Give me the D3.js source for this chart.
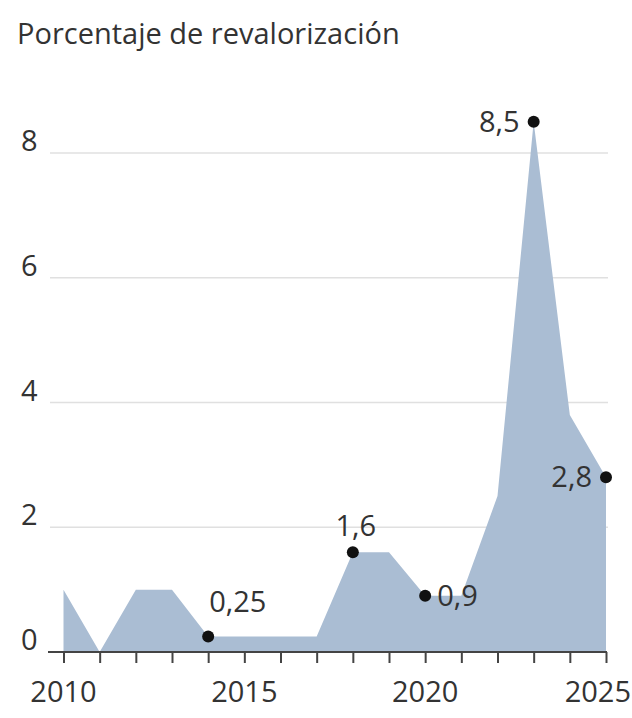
<!DOCTYPE html>
<html>
<head>
<meta charset="utf-8">
<script src="https://cdn.jsdelivr.net/npm/d3@7"></script>
<style>
  html, body { margin: 0; padding: 0; background: #fff; }
  svg { display: block; }
  text { font-family: "Open Sans", "Noto Sans", sans-serif; fill: #333; }
</style>
</head>
<body>
<script>
const years = [2010, 2011, 2012, 2013, 2014, 2015, 2016, 2017, 2018, 2019, 2020, 2021, 2022, 2023, 2024, 2025];
const values = [1, 0, 1, 1, 0.25, 0.25, 0.25, 0.25, 1.6, 1.6, 0.9, 0.9, 2.5, 8.5, 3.8, 2.8];
const yTicks = [0, 2, 4, 6, 8];
const xLabelYears = [2010, 2015, 2020, 2025];
const annotations = [
  { year: 2014, label: "0,25", pos: "above-right" },
  { year: 2018, label: "1,6", pos: "above" },
  { year: 2020, label: "0,9", pos: "right" },
  { year: 2023, label: "8,5", pos: "left" },
  { year: 2025, label: "2,8", pos: "left" }
];
const title = "Porcentaje de revalorización";

const W = 632, H = 718;
const svg = d3.select("body").append("svg").attr("width", W).attr("height", H);

const x = d3.scaleLinear().domain([2010, 2025]).range([63.5, 606]);
const y = d3.scaleLinear().domain([0, 8]).range([652, 153]);

svg.append("text").attr("x", 17).attr("y", 44).attr("font-size", 29).attr("fill", "#333").text(title);

// gridlines
svg.append("g").selectAll("line").data(yTicks.filter(d => d > 0)).join("line")
  .attr("x1", 50).attr("x2", 608).attr("y1", d => y(d)).attr("y2", d => y(d))
  .attr("stroke", "#e0e0e0").attr("stroke-width", 1.5);

// y labels
svg.append("g").selectAll("text").data(yTicks).join("text")
  .attr("x", 21).attr("y", d => y(d) - 2).attr("font-size", 29).text(d => d);

// area
const area = d3.area().x((d, i) => x(years[i])).y0(y(0)).y1(d => y(d));
svg.append("path").datum(values).attr("d", area).attr("fill", "#aabdd3");

// x axis
const xAxis = d3.axisBottom(x).tickValues(years).tickSize(11).tickFormat("");
const gx = svg.append("g").attr("transform", `translate(0,${y(0)})`).call(xAxis);
gx.select(".domain").remove();
gx.selectAll(".tick line").attr("stroke", "#444").attr("stroke-width", 2);
gx.append("line").attr("x1", 48).attr("x2", 607).attr("y1", 0).attr("y2", 0)
  .attr("stroke", "#444").attr("stroke-width", 2);
svg.append("g").selectAll("text").data(xLabelYears).join("text")
  .attr("x", (d, i, n) => i === n.length - 1 ? 631 : x(d))
  .attr("y", 702)
  .attr("text-anchor", (d, i, n) => i === n.length - 1 ? "end" : "middle")
  .attr("font-size", 29).text(d => d);

// dots and labels
const idx = yr => years.indexOf(yr);
const ann = svg.append("g");
annotations.forEach(a => {
  const cx = x(a.year), cy = y(values[idx(a.year)]);
  ann.append("circle").attr("cx", cx).attr("cy", cy).attr("r", 6).attr("fill", "#111");
  const t = ann.append("text").attr("font-size", 29).text(a.label);
  if (a.pos === "above-right") t.attr("x", cx + 1).attr("y", cy - 24);
  else if (a.pos === "above") t.attr("x", cx + 3).attr("y", cy - 16).attr("text-anchor", "middle");
  else if (a.pos === "right") t.attr("x", cx + 12).attr("y", cy + 10);
  else if (a.pos === "left") t.attr("x", cx - 14).attr("y", cy + 10).attr("text-anchor", "end");
});
</script>
</body>
</html>
